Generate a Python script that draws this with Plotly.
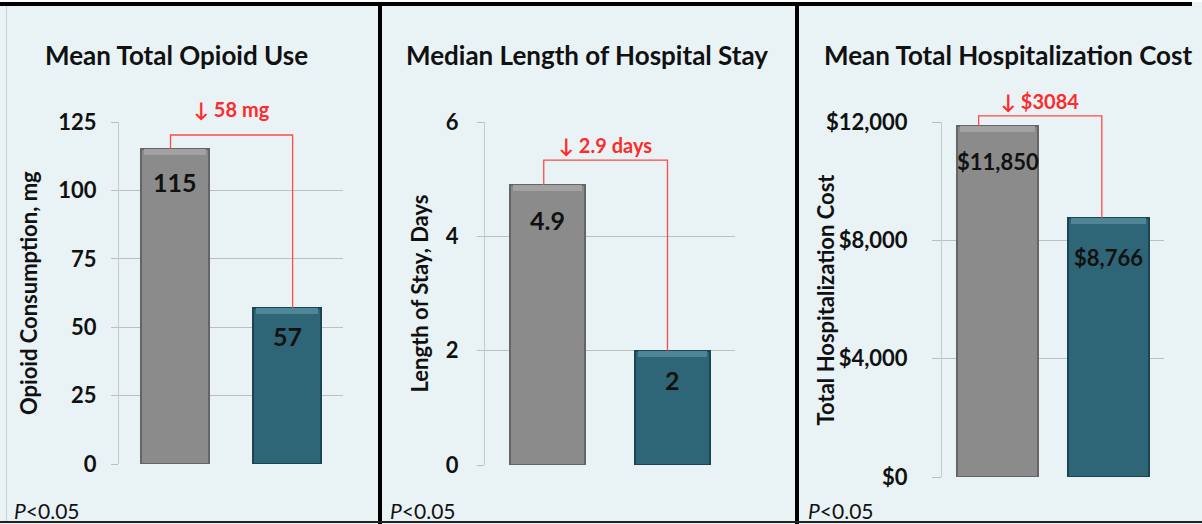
import plotly.graph_objects as go

# ---- data -------------------------------------------------------------
arms = ["Control", "Intervention"]
opioid_mg = [115, 57]
stay_days = [4.9, 2]
cost_usd = [11850, 8766]

opioid_ticks = [0, 25, 50, 75, 100, 125]
stay_ticks = [0, 2, 4, 6]
cost_ticks = [0, 4000, 8000, 12000]
cost_tick_text = ["$0", "$4,000", "$8,000", "$12,000"]

panel_titles = ["Mean Total Opioid Use", "Median Length of Hospital Stay",
                "Mean Total Hospitalization Cost"]
axis_titles = ["Opioid Consumption, mg", "Length of Stay, Days",
               "Total Hospitalization Cost"]
value_text = [["115", "57"], ["4.9", "2"], ["$11,850", "$8,766"]]
change_text = ["\u2193 58 mg", "\u2193 2.9 days", "\u2193 $3084"]
p_text = "<i>P</i>&lt;0.05"

# ---- styling ------------------------------------------------------------
W, H = 1202, 524
FONT = "Lato"
BG = "#E9F3F6"
GRID = "#BEBEBE"
RED = "#FF2B2B"
BRACKET = "#FF4A4A"
BAR_FILL = ["#8B8B8B", "#2E6577"]
BAR_EDGE = ["#656565", "#1C4553"]
BAR_TOP = ["#A2A2A2", "#4F8696"]
BEVEL_PX = 6


def px_x(v):
    return v / W


def px_y(v):
    return (H - v) / H


panels = [
    dict(values=opioid_mg, ticks=opioid_ticks, ticktext=[str(t) for t in opioid_ticks],
         xdom=(119, 343), ydom=(464, 122), bar_w=0.6, ticklen=7, standoff=10,
         bracket=(-0.04, 1.05, 0.962), change_shift=12, label_shift=[-33, -28],
         title_x=176, ytitle_x=28, p_x=12),
    dict(values=stay_days, ticks=stay_ticks, ticktext=[str(t) for t in stay_ticks],
         xdom=(485, 735), ydom=(465, 122), bar_w=0.6, ticklen=7, standoff=14,
         bracket=(-0.03, 0.96, 0.889), change_shift=1, label_shift=[-35, -29],
         title_x=587, ytitle_x=419, p_x=388),
    dict(values=cost_usd, ticks=cost_ticks, ticktext=cost_tick_text,
         xdom=(942, 1164), ydom=(477, 122), bar_w=0.73, ticklen=9, standoff=20,
         bracket=(-0.17, 0.94, 1.017), change_shift=1, label_shift=[-35, -40],
         title_x=1008, ytitle_x=825, p_x=806),
]

fig = go.Figure()
shapes = []
annotations = []

for i, p in enumerate(panels):
    sfx = "" if i == 0 else str(i + 1)
    xa, ya = "x" + sfx, "y" + sfx
    ymax = p["ticks"][-1]
    vals = p["values"]
    xpos = list(range(len(vals)))

    fig.add_trace(go.Bar(
        x=xpos, y=vals, width=p["bar_w"], name=panel_titles[i],
        customdata=arms,
        marker=dict(color=BAR_FILL, line=dict(color=BAR_EDGE, width=2)),
        xaxis=xa, yaxis=ya, showlegend=False,
        hovertemplate="%{customdata}: %{y}<extra></extra>",
    ))

    # light bevel strip along the top of each bar
    band = BEVEL_PX * ymax / (p["ydom"][0] - p["ydom"][1])
    fig.add_trace(go.Bar(
        x=xpos, y=[band] * len(vals), base=[v - band for v in vals],
        width=p["bar_w"] - 0.05, marker=dict(color=BAR_TOP, line=dict(width=0)),
        xaxis=xa, yaxis=ya, showlegend=False, hoverinfo="skip",
    ))

    fig.update_layout(**{
        "xaxis" + sfx: dict(domain=[px_x(p["xdom"][0]), px_x(p["xdom"][1])],
                            range=[-0.5, 1.5], anchor=ya, showgrid=False,
                            showticklabels=False, zeroline=False, showline=False,
                            ticks="", automargin=False, fixedrange=True),
        "yaxis" + sfx: dict(domain=[px_y(p["ydom"][0]), px_y(p["ydom"][1])],
                            range=[0, ymax], anchor=xa, tickmode="array",
                            tickvals=p["ticks"], ticktext=p["ticktext"],
                            showgrid=True, gridcolor=GRID, gridwidth=1,
                            zeroline=False, showline=True, linecolor="#C9C9C9",
                            linewidth=1, ticks="outside", ticklen=p["ticklen"],
                            tickcolor=GRID, ticklabelstandoff=p["standoff"],
                            tickfont=dict(family=FONT, size=22, color="#111111",
                                          weight="bold"),
                            automargin=False, fixedrange=True),
    })

    # value labels inside the bars, near the top
    for j, v in enumerate(vals):
        annotations.append(dict(
            x=j, y=v, xref=xa, yref=ya, text=value_text[i][j], showarrow=False,
            yanchor="middle", yshift=p["label_shift"][j],
            font=dict(family=FONT, size=25 if i < 2 else 22, color="#111111",
                      weight="bold"),
        ))

    # red bracket joining the two bar tops
    xl, xr, lvl = p["bracket"]
    v0, v1 = vals[0] / ymax, vals[1] / ymax
    shapes.append(dict(
        type="path", xref=xa, yref=ya + " domain",
        path=f"M {xl},{v0} L {xl},{lvl} L {xr},{lvl} L {xr},{v1}",
        line=dict(color=BRACKET, width=1.3), layer="above",
    ))
    annotations.append(dict(
        x=(xl + xr) / 2, y=lvl, xref=xa, yref=ya + " domain",
        text=change_text[i], showarrow=False, yanchor="bottom",
        yshift=p["change_shift"],
        font=dict(family=FONT, size=20, color=RED, weight="bold"),
    ))

    # panel title, y-axis title, p-value
    annotations.append(dict(
        x=px_x(p["title_x"]), y=px_y(55), xref="paper", yref="paper",
        text=panel_titles[i], showarrow=False, xanchor="center", yanchor="middle",
        font=dict(family=FONT, size=26, color="#111111", weight="bold"),
    ))
    mid = (p["ydom"][0] + p["ydom"][1]) / 2
    annotations.append(dict(
        x=px_x(p["ytitle_x"]), y=px_y(mid), xref="paper", yref="paper",
        text=axis_titles[i], showarrow=False, textangle=-90,
        xanchor="center", yanchor="middle",
        font=dict(family=FONT, size=22, color="#111111", weight="bold"),
    ))
    annotations.append(dict(
        x=px_x(p["p_x"]), y=px_y(510), xref="paper", yref="paper",
        text=p_text, showarrow=False, xanchor="left", yanchor="middle",
        font=dict(family=FONT, size=21, color="#111111"),
    ))

# frame: top rule, panel dividers, bottom rule, faint left edge
frame = [
    dict(x0=0, x1=1192, y0=2, y1=6, color="#000000"),
    dict(x0=378, x1=382, y0=2, y1=524, color="#000000"),
    dict(x0=795, x1=799, y0=2, y1=524, color="#000000"),
    dict(x0=0, x1=W, y0=521, y1=523, color="#222222"),
    dict(x0=0, x1=W, y0=0, y1=2, color="#FFFFFF"),
    dict(x0=6, x1=7, y0=6, y1=521, color="#C8D0D3"),
]
for f in frame:
    shapes.append(dict(type="rect", xref="paper", yref="paper",
                       x0=px_x(f["x0"]), x1=px_x(f["x1"]),
                       y0=px_y(f["y1"]), y1=px_y(f["y0"]),
                       fillcolor=f["color"], line=dict(width=0), layer="above"))

fig.update_layout(
    template="none",
    width=W, height=H, margin=dict(l=0, r=0, t=0, b=0, pad=0, autoexpand=False),
    paper_bgcolor=BG, plot_bgcolor=BG,
    font=dict(family=FONT),
    shapes=shapes, annotations=annotations,
    barmode="overlay", bargap=0, showlegend=False,
)

fig.write_html("out.html", config={"displayModeBar": False},
               post_script="document.body.style.margin='0';"
                           "document.body.style.overflow='hidden';")
